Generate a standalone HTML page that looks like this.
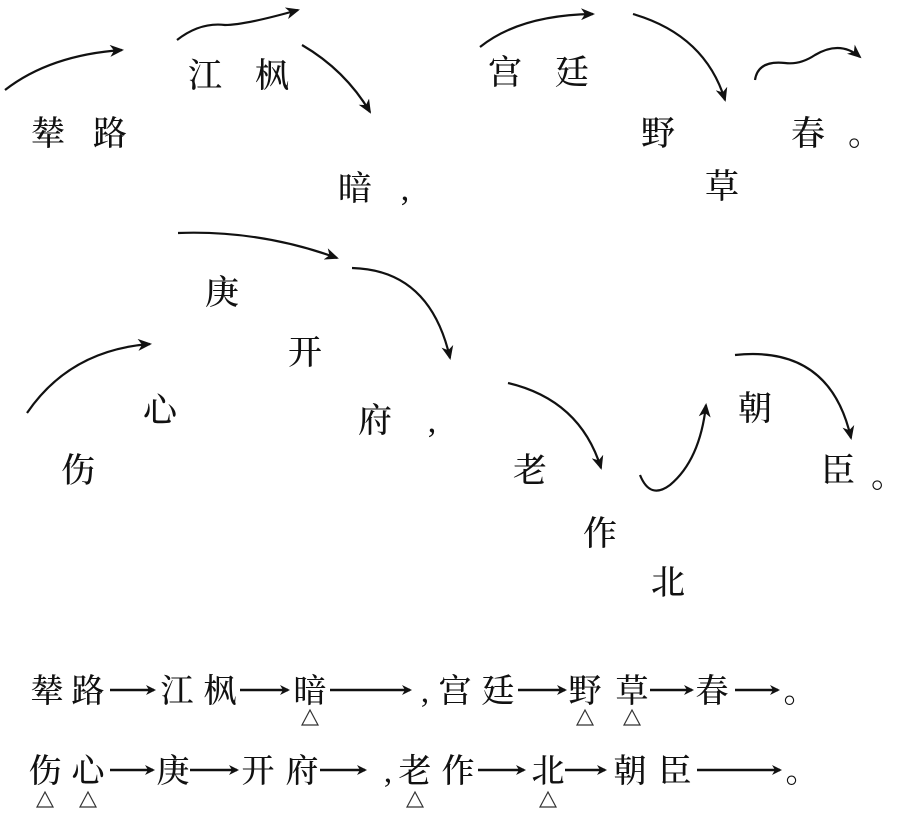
<!DOCTYPE html>
<html><head><meta charset="utf-8"><style>
html,body{margin:0;padding:0;background:#fff;}
svg{display:block;}
text{font-family:"Liberation Serif","Noto Serif CJK SC","Noto Sans CJK SC",serif;fill:#111;font-weight:500;}
</style></head><body>
<svg width="902" height="814" viewBox="0 0 902 814" xmlns="http://www.w3.org/2000/svg">
<defs>
<marker id="a" markerWidth="10" markerHeight="10" refX="8" refY="5" orient="auto" markerUnits="userSpaceOnUse">
<path d="M0,0 L10,5 L0,10 L3,5 Z" fill="#111"/></marker>
<marker id="b" markerWidth="14" markerHeight="12" refX="12" refY="6" orient="auto" markerUnits="userSpaceOnUse">
<path d="M0,0 L14,6 L0,12 L4,6 Z" fill="#111"/></marker>
</defs>
<g fill="none" stroke="#111" stroke-width="2.2">
<path d="M5,90 Q50,55 122,50" marker-end="url(#b)"/>
<path d="M177,40 Q200,22 225,25 Q245,25 298,10" marker-end="url(#b)"/>
<path d="M302,45 Q345,70 370,112" marker-end="url(#b)"/>
<path d="M480,47 Q520,15 593,14" marker-end="url(#b)"/>
<path d="M633,14 Q705,35 725,100" marker-end="url(#b)"/>
<path d="M755,80 Q758,60 785,63 Q800,65 815,55 Q840,40 860,57" marker-end="url(#b)"/>
<path d="M178,233 Q260,230 337,258" marker-end="url(#b)"/>
<path d="M352,268 Q430,270 450,358" marker-end="url(#b)"/>
<path d="M27,413 Q70,350 150,344" marker-end="url(#b)"/>
<path d="M508,383 Q580,400 601,468" marker-end="url(#b)"/>
<path d="M640,475 Q650,500 670,485 Q700,460 706,405" marker-end="url(#b)"/>
<path d="M735,355 Q830,345 851,438" marker-end="url(#b)"/>
</g>
<g font-size="34" text-anchor="middle">
<text x="48" y="145">辇</text><text x="110" y="145">路</text>
<text x="205" y="87">江</text><text x="272" y="87">枫</text>
<text x="355" y="200">暗</text><text x="405" y="200">,</text>
<text x="505" y="84">宫</text><text x="572" y="84">廷</text>
<text x="658" y="145">野</text><text x="722" y="198">草</text>
<text x="808" y="145">春</text><text x="865" y="145">。</text>
<text x="222" y="304">庚</text><text x="305" y="364">开</text>
<text x="160" y="422">心</text><text x="375" y="432">府</text><text x="432" y="432">,</text>
<text x="78" y="482">伤</text><text x="530" y="482">老</text>
<text x="600" y="545">作</text><text x="668" y="594">北</text>
<text x="755" y="420">朝</text><text x="838" y="482">臣</text><text x="888" y="487">。</text>
</g>
<g font-size="33" text-anchor="middle">
<text x="47" y="702">辇</text><text x="88" y="702">路</text>
<text x="177" y="702">江</text><text x="220" y="702">枫</text>
<text x="310" y="702">暗</text>
<text x="425" y="702">,</text>
<text x="455" y="702">宫</text><text x="498" y="702">廷</text>
<text x="585" y="702">野</text><text x="632" y="702">草</text>
<text x="712" y="702">春</text><text x="800" y="702">。</text>
<text x="45" y="782">伤</text><text x="88" y="782">心</text>
<text x="173" y="782">庚</text>
<text x="258" y="782">开</text><text x="302" y="782">府</text>
<text x="388" y="782">,</text>
<text x="415" y="782">老</text><text x="458" y="782">作</text>
<text x="548" y="782">北</text>
<text x="630" y="782">朝</text><text x="675" y="782">臣</text>
<text x="802" y="782">。</text>
</g>
<g fill="none" stroke="#111" stroke-width="2.4">
<path d="M110,690 H154" marker-end="url(#a)"/>
<path d="M240,690 H288" marker-end="url(#a)"/>
<path d="M330,690 H410" marker-end="url(#a)"/>
<path d="M518,690 H565" marker-end="url(#a)"/>
<path d="M650,690 H692" marker-end="url(#a)"/>
<path d="M735,690 H778" marker-end="url(#a)"/>
<path d="M110,770 H153" marker-end="url(#a)"/>
<path d="M190,770 H237" marker-end="url(#a)"/>
<path d="M320,770 H365" marker-end="url(#a)"/>
<path d="M478,770 H524" marker-end="url(#a)"/>
<path d="M565,770 H605" marker-end="url(#a)"/>
<path d="M697,770 H780" marker-end="url(#a)"/>
</g>
<g fill="none" stroke="#333" stroke-width="1.2">
<path d="M302,725 L310,710 L318,725 Z"/>
<path d="M577,725 L585,710 L593,725 Z"/>
<path d="M624,725 L632,710 L640,725 Z"/>
<path d="M37,807 L45,792 L53,807 Z"/>
<path d="M80,807 L88,792 L96,807 Z"/>
<path d="M407,807 L415,792 L423,807 Z"/>
<path d="M540,807 L548,792 L556,807 Z"/>
</g>
</svg>
</body></html>
